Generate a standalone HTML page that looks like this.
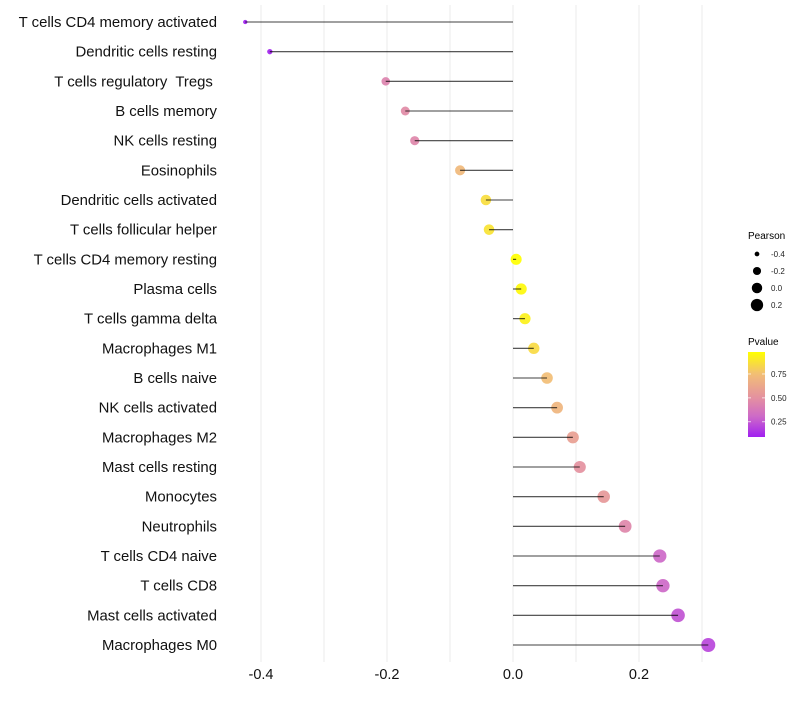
<!DOCTYPE html>
<html><head><meta charset="utf-8"><style>
body{margin:0;background:#fff;width:800px;height:700px;overflow:hidden;font-family:"Liberation Sans",sans-serif}
</style></head><body>
<svg id="chart" width="800" height="700" xmlns="http://www.w3.org/2000/svg" style="font-family:'Liberation Sans',sans-serif">
<g id="grid"></g>
<g id="dots"></g>
<g id="marks"></g>
<g id="labels"></g>
<g id="xticks"></g>
<g id="legend"></g>
</svg>
<script>
const categories=["T cells CD4 memory activated","Dendritic cells resting","T cells regulatory  Tregs ","B cells memory","NK cells resting","Eosinophils","Dendritic cells activated","T cells follicular helper","T cells CD4 memory resting","Plasma cells","T cells gamma delta","Macrophages M1","B cells naive","NK cells activated","Macrophages M2","Mast cells resting","Monocytes","Neutrophils","T cells CD4 naive","T cells CD8","Mast cells activated","Macrophages M0"];
const pearson=[-0.425,-0.386,-0.202,-0.171,-0.156,-0.084,-0.043,-0.038,0.005,0.013,0.019,0.033,0.054,0.070,0.095,0.106,0.144,0.178,0.233,0.238,0.262,0.310];
const pvalue=[0.09,0.10,0.43,0.47,0.45,0.72,0.86,0.88,0.98,0.96,0.93,0.85,0.75,0.70,0.58,0.50,0.54,0.45,0.30,0.30,0.24,0.20];
const xTicks=[-0.4,-0.2,0.0,0.2];
const xGrid=[-0.4,-0.3,-0.2,-0.1,0,0.1,0.2,0.3];
const sizeLegend=[-0.4,-0.2,0.0,0.2];
const colorLegend=[0.25,0.50,0.75];

const NS="http://www.w3.org/2000/svg";
function mk(tag,attrs,parent){const e=document.createElementNS(NS,tag);for(const k in attrs)e.setAttribute(k,attrs[k]);parent.appendChild(e);return e;}
const xs=v=>513+v*630;
const ys=i=>22+i*(623/21);
const rs=v=>Math.sqrt(Math.max(1,30.25+60*v));
const stops=[[0.09,[160,32,240]],[0.3,[205,105,200]],[0.5,[228,145,160]],[0.75,[242,190,118]],[0.98,[255,255,0]]];
function col(p){if(p<=stops[0][0])return rgb(stops[0][1]);for(let i=1;i<stops.length;i++){if(p<=stops[i][0]){const t=(p-stops[i-1][0])/(stops[i][0]-stops[i-1][0]);const a=stops[i-1][1],b=stops[i][1];return rgb(a.map((c,j)=>c+(b[j]-c)*t));}}return rgb(stops[stops.length-1][1]);}
function rgb(c){return `rgb(${c.map(Math.round).join(',')})`;}

const grid=document.getElementById('grid');
xGrid.forEach(v=>{const l=mk('line',{x1:xs(v),x2:xs(v),y1:5,y2:662,stroke:'#ebebeb','stroke-width':1},grid);

});

const marks=document.getElementById('marks'),dots=document.getElementById('dots'),labels=document.getElementById('labels');
categories.forEach((c,i)=>{
 const y=ys(i);
 const dot=mk('circle',{cx:xs(pearson[i]),cy:y,r:rs(pearson[i]),fill:col(pvalue[i]),'fill-opacity':0.92},dots);
 
 
 const seg=mk('line',{x1:xs(0),x2:xs(pearson[i]),y1:y,y2:y,stroke:'#000','stroke-opacity':0.75,'stroke-width':1.1},marks);
 
 
 const t=mk('text',{x:217,y:y+5,'text-anchor':'end','font-size':14.9,fill:'#111'},labels);
 t.setAttribute('style','white-space:pre');
 t.textContent=c;
 
 
});
const xt=document.getElementById('xticks');
xTicks.forEach(v=>{const t=mk('text',{x:xs(v),y:679,'text-anchor':'middle','font-size':14.5,fill:'#111'},xt);
t.textContent=v.toFixed(1);

});

const lg=document.getElementById('legend');
let t=mk('text',{x:748,y:239,'font-size':10,fill:'#000'},lg);t.textContent='Pearson';


sizeLegend.forEach((v,i)=>{const y=254+i*17;
 const c=mk('circle',{cx:757,cy:y,r:rs(v)*0.95,fill:'#000'},lg);
 
 
 const tt=mk('text',{x:771,y:y+3,'font-size':8,fill:'#222'},lg);tt.textContent=v.toFixed(1);
 
 });
t=mk('text',{x:748,y:345,'font-size':10,fill:'#000'},lg);t.textContent='Pvalue';


const defs=mk('defs',{},lg);const gr=mk('linearGradient',{id:'pg',x1:0,y1:1,x2:0,y2:0},defs);
const pTop=0.98,pBot=0.09,barTop=352,barBot=437;
for(let k=0;k<=20;k++){const p=pBot+(pTop-pBot)*k/20;mk('stop',{offset:k/20,'stop-color':col(p)},gr);}
const bar=mk('rect',{x:748,y:barTop,width:17,height:barBot-barTop,fill:'url(#pg)'},lg);


colorLegend.forEach(v=>{const y=barBot-(v-pBot)/(pTop-pBot)*(barBot-barTop);
 mk('line',{x1:748,x2:751,y1:y,y2:y,stroke:'#fff','stroke-opacity':0.7},lg);
 mk('line',{x1:762,x2:765,y1:y,y2:y,stroke:'#fff','stroke-opacity':0.7},lg);
 const tt=mk('text',{x:771,y:y+3,'font-size':8,fill:'#222'},lg);tt.textContent=v.toFixed(2);
 
 });
</script>
</body></html>
